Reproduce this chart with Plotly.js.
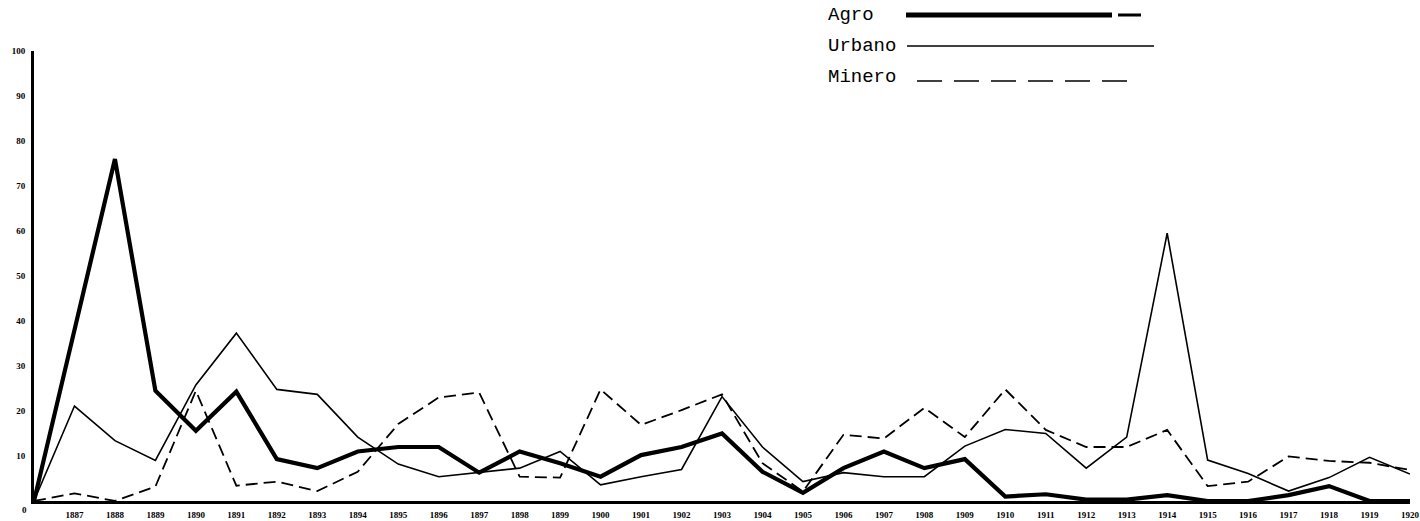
<!DOCTYPE html>
<html>
<head>
<meta charset="utf-8">
<script src="https://cdn.plot.ly/plotly-3.0.1.min.js"></script>
<style>html,body{margin:0;padding:0;background:#fff;}#chart{width:1420px;height:521px;}</style>
</head>
<body>
<div id="chart"></div>
<script>
// Years on the horizontal axis
const years = [1886,1887,1888,1889,1890,1891,1892,1893,1894,1895,1896,1897,1898,1899,1900,1901,1902,1903,1904,1905,1906,1907,1908,1909,1910,1911,1912,1913,1914,1915,1916,1917,1918,1919,1920];
// Series values
const agro   = [0, 38, 76, 24.5, 15.6, 24.3, 9.3, 7.3, 11, 12, 12, 6.3, 11, 8.4, 5.4, 10.2, 12, 15, 6.5, 1.8, 7.3, 11, 7.3, 9.3, 1, 1.5, 0.3, 0.3, 1.3, 0, 0, 1.3, 3.3, 0, 0];
const urbano = [0, 21.1, 13.4, 9, 25.8, 37.3, 24.8, 23.7, 14.2, 8.2, 5.4, 6.3, 7.3, 11, 3.6, 5.4, 7, 23.2, 12, 4.3, 6.3, 5.4, 5.4, 12.2, 15.9, 15, 7.3, 14.2, 59.5, 9.1, 6.1, 2.2, 5.2, 9.7, 6];
const minero = [0, 1.7, 0, 3.2, 24.5, 3.4, 4.3, 2.2, 6.5, 17.1, 23, 24.1, 5.4, 5.2, 24.8, 16.9, 20.2, 23.7, 8.4, 2.1, 14.7, 13.9, 20.7, 14.2, 24.8, 15.8, 12, 12, 15.8, 3.3, 4.3, 9.9, 8.9, 8.5, 6.9];
// Tick labels
const xTickVals = years.slice(1);
const xTickText = xTickVals.map(String);
const yTickVals = [10,20,30,40,50,60,70,80,90,100];
const yTickText = yTickVals.map(String);
const seriesNames = ["Agro", "Urbano", "Minero"];

const W = 1420, H = 521;
const M = {l: 34, r: 10, t: 51, b: 20};
const pw = W - M.l - M.r, ph = H - M.t - M.b;
const px = x => (x - M.l) / pw;       // pixel -> paper x
const py = y => (H - M.b - y) / ph;   // pixel -> paper y

const traces = [
  {x: years, y: minero, mode: "lines", name: seriesNames[2], line: {color: "#000", width: 1.8, dash: "12px,6px"}},
  {x: years, y: urbano, mode: "lines", name: seriesNames[1], line: {color: "#000", width: 1.6}},
  {x: years, y: agro,   mode: "lines", name: seriesNames[0], line: {color: "#000", width: 4.2}}
];

const tickFont = {family: "Liberation Serif", size: 9, color: "#000", weight: "bold"};
const legFont = {family: "Liberation Mono", size: 19, color: "#000"};

const layout = {
  width: W, height: H,
  margin: M,
  paper_bgcolor: "#fff", plot_bgcolor: "#fff",
  showlegend: false,
  xaxis: {
    range: [1886, 1920], showgrid: false, zeroline: false,
    showline: true, linecolor: "#000", linewidth: 3,
    tickvals: xTickVals, ticktext: xTickText, ticks: "", tickfont: tickFont,
    ticklabelstandoff: 3
  },
  yaxis: {
    range: [0, 100], showgrid: false, zeroline: false,
    showline: true, linecolor: "#000", linewidth: 3,
    tickvals: yTickVals, ticktext: yTickText, ticks: "", tickfont: tickFont,
    ticklabelstandoff: 4
  },
  annotations: [
    {xref: "paper", yref: "y", x: px(24), y: 0, yshift: -9, text: "0", showarrow: false, font: tickFont, xanchor: "center"},
    {xref: "paper", yref: "paper", x: px(826), y: py(15), text: seriesNames[0], showarrow: false, font: legFont, xanchor: "left", yanchor: "middle"},
    {xref: "paper", yref: "paper", x: px(826), y: py(46), text: seriesNames[1], showarrow: false, font: legFont, xanchor: "left", yanchor: "middle"},
    {xref: "paper", yref: "paper", x: px(826), y: py(77), text: seriesNames[2], showarrow: false, font: legFont, xanchor: "left", yanchor: "middle"}
  ],
  shapes: [
    {type: "line", xref: "paper", yref: "paper", x0: px(906), x1: px(1112), y0: py(15), y1: py(15), line: {color: "#000", width: 5}},
    {type: "line", xref: "paper", yref: "paper", x0: px(1118), x1: px(1141), y0: py(15), y1: py(15), line: {color: "#000", width: 3}},
    {type: "line", xref: "paper", yref: "paper", x0: px(907), x1: px(1154), y0: py(46), y1: py(46), line: {color: "#000", width: 1.6}},
    {type: "line", xref: "paper", yref: "paper", x0: px(917), x1: px(1130), y0: py(81), y1: py(81), line: {color: "#000", width: 1.6, dash: "25px,12px"}}
  ]
};

Plotly.newPlot("chart", traces, layout, {staticPlot: true, displayModeBar: false});
</script>
</body>
</html>
